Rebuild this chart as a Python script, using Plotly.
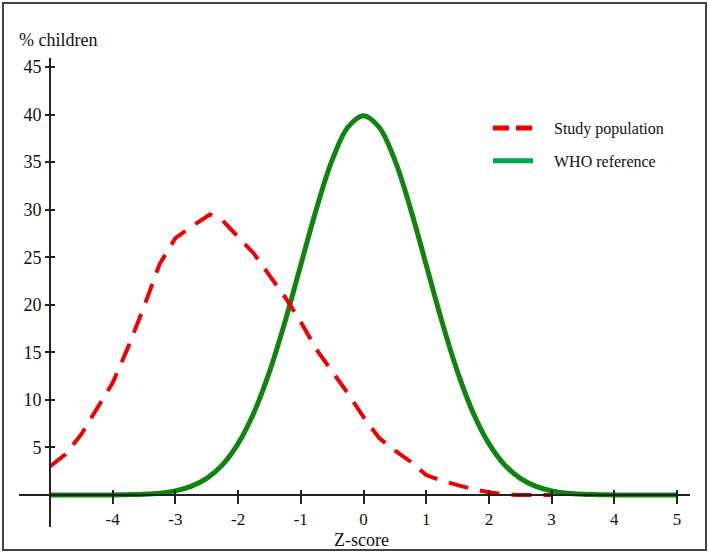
import plotly.graph_objects as go

# ---- data ----
study_x = [-5.0, -4.75, -4.5, -4.25, -4.0, -3.75, -3.5, -3.25, -3.0, -2.75, -2.5, -2.45,
           -2.25, -2.0, -1.75, -1.5, -1.25, -1.0, -0.75, -0.5, -0.25, 0.0, 0.25, 0.5,
           0.75, 1.0, 1.25, 1.5, 1.75, 2.0, 2.25, 2.5, 3.0]
study_y = [3.0, 4.3, 6.4, 9.2, 11.8, 15.6, 19.8, 24.3, 27.0, 28.2, 29.3, 29.5,
           28.9, 27.1, 25.4, 23.1, 20.8, 18.2, 15.3, 13.0, 10.7, 8.2, 6.0, 4.7,
           3.5, 2.1, 1.5, 1.05, 0.6, 0.3, 0.05, 0.0, 0.0]

who_x = [-5.0, -4.75, -4.5, -4.25, -4.0, -3.75, -3.5, -3.25, -3.0, -2.75, -2.5, -2.25,
         -2.0, -1.75, -1.5, -1.25, -1.0, -0.75, -0.5, -0.25, 0.0, 0.25, 0.5, 0.75,
         1.0, 1.25, 1.5, 1.75, 2.0, 2.25, 2.5, 2.75, 3.0, 3.25, 3.5, 3.75, 4.0,
         4.25, 4.5, 4.75, 5.0]
who_y = [0.0, 0.0, 0.0, 0.0, 0.01, 0.04, 0.09, 0.2, 0.44, 0.91, 1.75, 3.17,
         5.4, 8.63, 12.95, 18.26, 24.2, 30.11, 35.21, 38.67, 39.89, 38.67, 35.21, 30.11,
         24.2, 18.26, 12.95, 8.63, 5.4, 3.17, 1.75, 0.91, 0.44, 0.2, 0.09, 0.04, 0.01,
         0.0, 0.0, 0.0, 0.0]

x_ticks = [-4, -3, -2, -1, 0, 1, 2, 3, 4, 5]
y_ticks = [5, 10, 15, 20, 25, 30, 35, 40, 45]

x_title = "Z-score"
y_title = "% children"
series_names = ["Study population", "WHO reference"]

# ---- layout geometry (pixels) ----
W, H = 709, 554
L, R, T, B = 19, 690, 58, 527
x_range = [-5.494, 5.207]
y_range = [-3.36, 45.95]
FONT = "Liberation Serif, Times New Roman, serif"
PAD = "\u00a0" * 4  # extra space between legend symbol and text

def px_x(p):
    return (p - L) / (R - L)

def px_y(p):
    return (B - p) / (B - T)

ypos = (-5 - x_range[0]) / (x_range[1] - x_range[0])   # y axis sits at x=-5
xpos = (0 - y_range[0]) / (y_range[1] - y_range[0])    # x axis sits at y=0

RED = "#f00000"
GREEN = "#0f850f"

fig = go.Figure()
fig.add_trace(go.Scatter(x=who_x, y=who_y, mode="lines", line=dict(color=GREEN, width=5, shape="spline"),
                         showlegend=False, hoverinfo="skip"))
fig.add_trace(go.Scatter(x=study_x, y=study_y, mode="lines",
                         line=dict(color=RED, width=4, dash="20px,12px"),
                         showlegend=False, hoverinfo="skip"))
# legend entries
fig.add_trace(go.Scatter(x=[None], y=[None], mode="lines", name=PAD + series_names[0],
                         line=dict(color="#ee0000", width=5, dash="16px,7px"), legendgroup="a"))
fig.add_trace(go.Scatter(x=[None], y=[None], mode="lines", name=PAD + series_names[1],
                         line=dict(color="#00a84f", width=5), legendgroup="b"))
# dummy trace for the overlay axes (inner tick halves)
fig.add_trace(go.Scatter(x=[None], y=[None], xaxis="x2", yaxis="y2", showlegend=False, hoverinfo="skip"))

fig.update_layout(
    width=W, height=H,
    margin=dict(l=L, r=W - R, t=T, b=H - B, pad=0),
    paper_bgcolor="white", plot_bgcolor="white",
    font=dict(family=FONT, size=17, color="#111"),
    xaxis=dict(range=x_range, anchor="free", position=xpos, showgrid=False, zeroline=False,
               showline=True, linecolor="#222", linewidth=2,
               tickmode="array", tickvals=x_ticks, ticktext=[str(v) for v in x_ticks],
               ticks="outside", ticklen=8, tickwidth=1.5, tickcolor="#222",
               ticklabelstandoff=1, tickfont=dict(family=FONT, size=17)),
    yaxis=dict(range=y_range, anchor="free", position=ypos, showgrid=False, zeroline=False,
               showline=True, linecolor="#222", linewidth=2,
               tickmode="array", tickvals=y_ticks, ticktext=[str(v) for v in y_ticks],
               ticks="outside", ticklen=4, tickwidth=1.5, tickcolor="#222",
               tickfont=dict(family=FONT, size=18)),
    xaxis2=dict(range=x_range, overlaying="x", anchor="free", position=xpos, showgrid=False,
                zeroline=False, showline=False, tickmode="array", tickvals=x_ticks,
                ticks="inside", ticklen=5, tickwidth=1.5, tickcolor="#222", showticklabels=False),
    yaxis2=dict(range=y_range, overlaying="y", anchor="free", position=ypos, showgrid=False,
                zeroline=False, showline=False, tickmode="array", tickvals=y_ticks,
                ticks="inside", ticklen=4, tickwidth=1.5, tickcolor="#222", showticklabels=False),
    legend=dict(x=px_x(488), y=px_y(111), xanchor="left", yanchor="top",
                font=dict(family=FONT, size=16, color="#111"), bgcolor="rgba(0,0,0,0)",
                tracegroupgap=9, itemwidth=40),
    annotations=[
        dict(text=y_title, xref="paper", yref="paper", x=px_x(17), y=px_y(40),
             xanchor="left", yanchor="middle", showarrow=False, font=dict(family=FONT, size=18)),
        dict(text=x_title, xref="paper", yref="paper", x=px_x(361), y=px_y(540),
             xanchor="center", yanchor="middle", showarrow=False, font=dict(family=FONT, size=18)),
    ],
    shapes=[dict(type="rect", xref="paper", yref="paper", x0=px_x(3), x1=px_x(706),
                 y0=px_y(550), y1=px_y(3), line=dict(color="#444", width=2), layer="below")],
)

fig.write_html("out.html", config={"displayModeBar": False},
               post_script="document.body.style.margin='0';document.body.style.overflow='hidden';")
